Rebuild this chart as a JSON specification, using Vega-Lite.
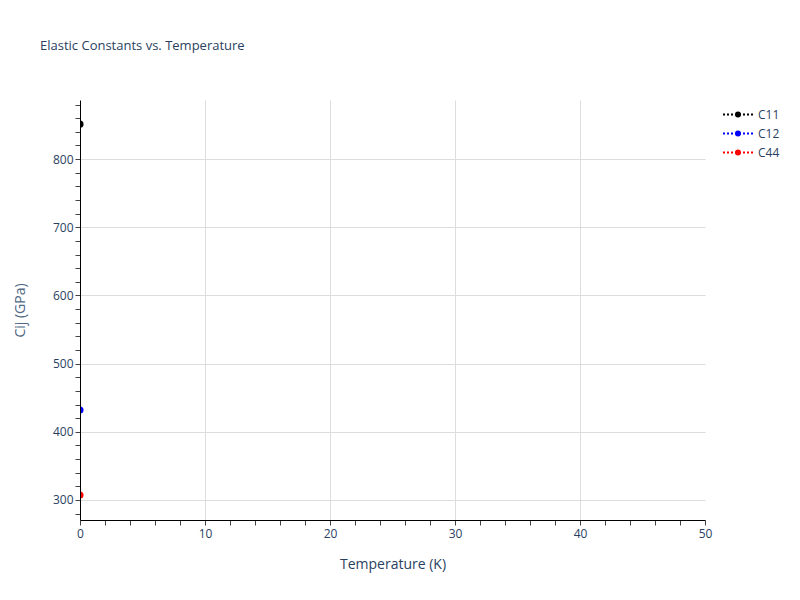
{
  "$schema": "https://vega.github.io/schema/vega-lite/v6.json",
  "description": "Elastic constants C11, C12, C44 against temperature.",
  "width": 625,
  "height": 420,
  "autosize": "none",
  "padding": {"left": 80, "top": 100, "right": 95, "bottom": 80},
  "background": "white",
  "config": {
    "font": "Open Sans",
    "view": {"stroke": null}
  },
  "title": {
    "text": "Elastic Constants vs. Temperature",
    "anchor": "start",
    "frame": "group",
    "dx": -40,
    "offset": 47,
    "fontSize": 13,
    "fontWeight": "normal",
    "color": "#2a3f5f"
  },
  "data": {
    "values": [
      {"Temperature": 0, "Cij": 851.2, "Component": "C11"},
      {"Temperature": 0, "Cij": 432.0, "Component": "C12"},
      {"Temperature": 0, "Cij": 307.2, "Component": "C44"}
    ]
  },
  "encoding": {
    "x": {
      "field": "Temperature",
      "type": "quantitative",
      "scale": {"domain": [0, 50], "nice": false, "zero": false},
      "axis": {
        "title": "Temperature (K)",
        "titleFontSize": 14,
        "titleFontWeight": "normal",
        "titleColor": "#2a3f5f",
        "titlePadding": 18,
        "values": [0, 2, 4, 6, 8, 10, 12, 14, 16, 18, 20, 22, 24, 26, 28, 30, 32, 34, 36, 38, 40, 42, 44, 46, 48, 50],
        "labelExpr": "datum.value % 10 === 0 ? datum.label : ''",
        "labelFontSize": 12,
        "labelColor": "#2a3f5f",
        "labelPadding": 3,
        "labelFlush": false,
        "domainColor": "#000000",
        "domainWidth": 1,
        "tickColor": "#444444",
        "tickSize": 5,
        "gridColor": {"condition": {"test": "datum.value % 10 === 0 && datum.value > 0 && datum.value < 50", "value": "#dddddd"}, "value": null},
        "gridWidth": 1,
        "zindex": 1
      }
    },
    "y": {
      "field": "Cij",
      "type": "quantitative",
      "scale": {"domain": [270.6, 886.6], "nice": false, "zero": false},
      "axis": {
        "title": "Cij (GPa)",
        "titleFontSize": 14,
        "titleFontWeight": "normal",
        "titleColor": "#506784",
        "titlePadding": 25,
        "values": [280, 300, 320, 340, 360, 380, 400, 420, 440, 460, 480, 500, 520, 540, 560, 580, 600, 620, 640, 660, 680, 700, 720, 740, 760, 780, 800, 820, 840, 860, 880],
        "labelExpr": "datum.value % 100 === 0 ? datum.label : ''",
        "labelFontSize": 12,
        "labelColor": "#2a3f5f",
        "labelPadding": 2,
        "domainColor": "#000000",
        "domainWidth": 1,
        "tickColor": "#444444",
        "tickSize": 5,
        "gridColor": {"condition": {"test": "datum.value % 100 === 0", "value": "#dddddd"}, "value": null},
        "gridWidth": 1,
        "zindex": 1
      }
    },
    "color": {
      "field": "Component",
      "type": "nominal",
      "scale": {"domain": ["C11", "C12", "C44"], "range": ["#000000", "#0000ff", "#ff0000"]},
      "legend": {
        "title": null,
        "orient": "none",
        "legendX": 642,
        "legendY": 6,
        "symbolType": "M-1,0h0.133M-0.733,0h0.133M-0.467,0h0.133M-0.2,0h0.133M0.067,0h0.133M0.333,0h0.133M0.6,0h0.133M0.867,0h0.133M-0.133,0A0.133,0.133,0,1,0,0.133,0A0.133,0.133,0,1,0,-0.133,0Z",
        "symbolSize": 900,
        "symbolStrokeWidth": 2,
        "labelFontSize": 12,
        "labelColor": "#2a3f5f",
        "labelOffset": 4,
        "clipHeight": 17,
        "rowPadding": 2,
        "encode": {
          "symbols": {
            "update": {
              "fill": {"scale": "color", "field": "value"},
              "stroke": {"scale": "color", "field": "value"},
              "strokeWidth": {"value": 2},
              "opacity": {"value": 1}
            }
          }
        }
      }
    }
  },
  "layer": [
    {
      "mark": {"type": "line", "strokeDash": [2, 2], "strokeWidth": 2, "clip": true}
    },
    {
      "mark": {"type": "point", "filled": true, "shape": "circle", "size": 50, "opacity": 1, "clip": true}
    }
  ]
}
